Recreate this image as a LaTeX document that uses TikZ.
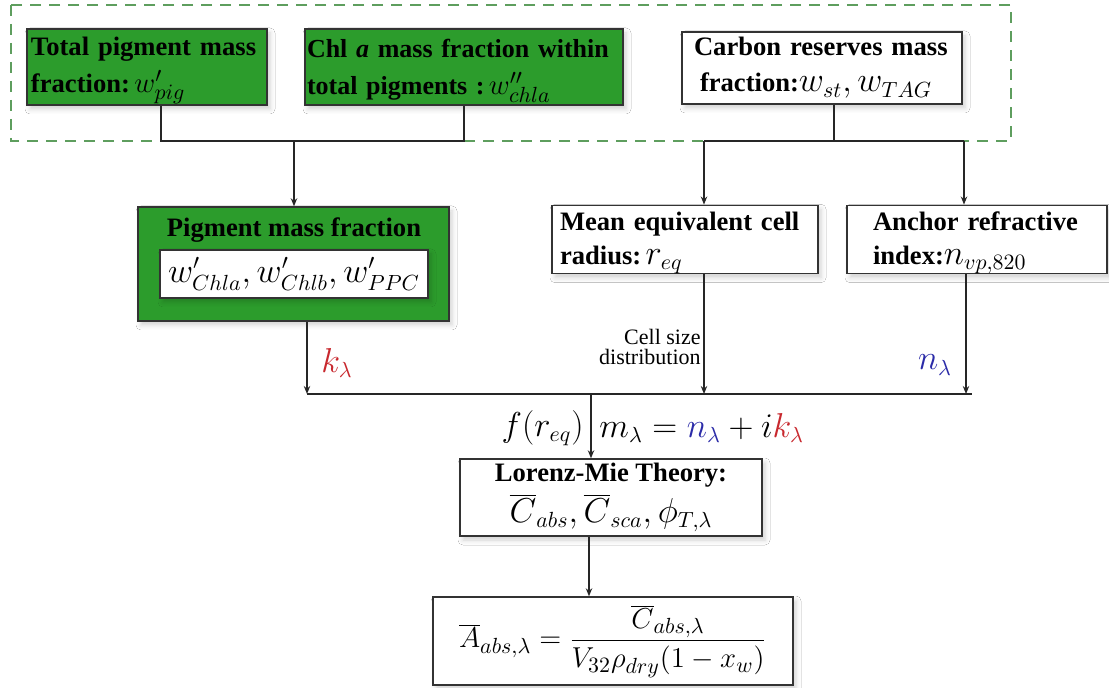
\documentclass[tikz,border=0pt]{standalone}
\usepackage{fontspec}
\setmainfont{Liberation Serif}
\usetikzlibrary{arrows.meta,shadows.blur}
\definecolor{boxgreen}{HTML}{2C9C2C}
\definecolor{dashgreen}{HTML}{5E9E5E}
\definecolor{kred}{HTML}{C8282E}
\definecolor{nblue}{HTML}{2B2BA8}
\newcommand\mth[1]{{\fontsize{16}{18}\selectfont$#1$}}
\newcommand\smth[1]{{\fontsize{15}{17}\selectfont$#1$}}
\newcommand\topstrut{\rule{0pt}{13pt}}
\begin{document}
\begin{tikzpicture}[x=0.5pt,y=-0.5pt,
  box/.style={draw=black!80, line width=0.7pt, fill=white, inner sep=0pt,
    blur shadow={shadow xshift=1.5pt, shadow yshift=-2pt, shadow blur radius=2.5pt, shadow opacity=18},
    font=\fontsize{13.3}{18}\selectfont\bfseries},
  gbox/.style={box, fill=boxgreen},
  conn/.style={line width=0.75pt, black!85},
  arr/.style={conn, -{Stealth[length=4pt,width=3.2pt]}},
  lbl/.style={inner sep=0pt}
]
\fill[white] (0,0) rectangle (1109,688);
\useasboundingbox (0,0) rectangle (1109,688);

% dashed group of inputs
\draw[dashgreen, line width=0.9pt, dash pattern=on 5.5pt off 4pt] (11,5) rectangle (1011,141);

% input boxes
\node[gbox, minimum width=120pt, minimum height=38pt, text width=116pt, align=left, font=\fontsize{13.3}{18.5}\selectfont\bfseries] (b1) at (147,67)
  {\topstrut Total pigment mass\\fraction:\,\smth{w'_{pig}}};
\node[gbox, minimum width=159pt, minimum height=38pt, text width=157pt, align=left, font=\fontsize{13}{18.5}\selectfont\bfseries] (b2) at (464,67)
  {\topstrut Chl \textit{a} mass fraction within\\total pigments :\,\smth{w''_{chla}}};
\node[box, minimum width=140pt, minimum height=36pt, text width=128pt, align=left] (b3) at (822,68)
  {Carbon reserves mass\\\hspace*{3pt}fraction:\mth{w_{st}, w_{TAG}}};

% pigment mass fraction
\node[gbox, minimum width=155.5pt, minimum height=57pt] (pig) at (293.5,264) {};
\node[lbl, font=\fontsize{13.3}{16}\selectfont\bfseries] (pigt) at (294,230) {Pigment mass fraction};
\node[box, minimum width=134pt, minimum height=24pt] (pigw) at (294,274)
  {\mth{w'_{Chla}, w'_{Chlb}, w'_{PPC}}};

% radius and refractive index
\node[box, minimum width=133pt, minimum height=32.5pt, text width=125pt, align=left, font=\fontsize{13.3}{17}\selectfont\bfseries] (mean) at (685,239.5)
  {\rule{0pt}{12.5pt}Mean equivalent cell\\radius:\,\mth{r_{eq}}};
\node[box, minimum width=130pt, minimum height=32.5pt, text width=104pt, align=left, font=\fontsize{13.3}{17}\selectfont\bfseries] (anch) at (977,239.5)
  {\rule{0pt}{12.5pt}Anchor refractive\\index:\mth{n_{vp,820}}};

% Lorenz-Mie and result
\node[box, minimum width=151pt, minimum height=38.5pt, align=center, font=\fontsize{13.3}{15}\selectfont\bfseries] (lmt) at (611,497.5)
  {Lorenz-Mie Theory:\\[2.5pt]\mth{\overline{C}_{abs}, \overline{C}_{sca}, \phi_{T,\lambda}}};
\node[box, minimum width=180pt, minimum height=44pt] (fin) at (613,641)
  {\fontsize{15.5}{18}\selectfont$\displaystyle \overline{A}_{abs,\lambda} = \frac{\overline{C}_{abs,\lambda}}{V_{32}\rho_{dry}(1-x_w)}$};

% connectors: top brackets
\coordinate (j1) at (161,141);
\coordinate (j0) at (294,141);
\coordinate (j2) at (464,141);
\draw[conn] (b1.south -| j1) -- (j1) -- (j2) -- (b2.south);
\draw[arr] (j0) -- (pig.north -| j0);

\coordinate (c0) at (834,141);
\coordinate (c1) at (704,141);
\coordinate (c2) at (964,141);
\draw[conn] (b3.south -| c0) -- (c0);
\draw[conn] (c1) -- (c2);
\draw[arr] (c1) -- (mean.north -| c1);
\draw[arr] (c2) -- (anch.north -| c2);

% collecting line
\coordinate (hL) at (307,394);
\coordinate (hA) at (704,394);
\coordinate (hB) at (966,394);
\coordinate (hR) at (972,394);
\coordinate (hM) at (591,394);
\draw[conn] (hL) -- (hR);
\draw[arr] (pig.south -| hL) -- (hL);
\draw[arr] (mean.south -| hA) -- (hA);
\draw[arr] (anch.south -| hB) -- (hB);
\draw[arr] (hM) -- (lmt.north -| hM);
\coordinate (v) at (589,536);
\draw[arr] (lmt.south -| v) -- (fin.north -| v);

% labels
\node[lbl] (kl) at (337,363) {\mth{\color{kred}k_\lambda}};
\node[lbl] (nl) at (935,365) {\mth{\color{nblue}n_\lambda}};
\node[lbl, anchor=south east, align=right, font=\fontsize{11}{10}\selectfont] (csd) at (701,365)
  {Cell size\\distribution};
\node[lbl, anchor=east] (fr) at (584,428) {\mth{f(r_{eq})}};
\node[lbl, anchor=west] (ml) at (599,428)
  {\mth{m_\lambda = {\color{nblue}n_\lambda} + i{\color{kred}k_\lambda}}};
\end{tikzpicture}
\end{document}
